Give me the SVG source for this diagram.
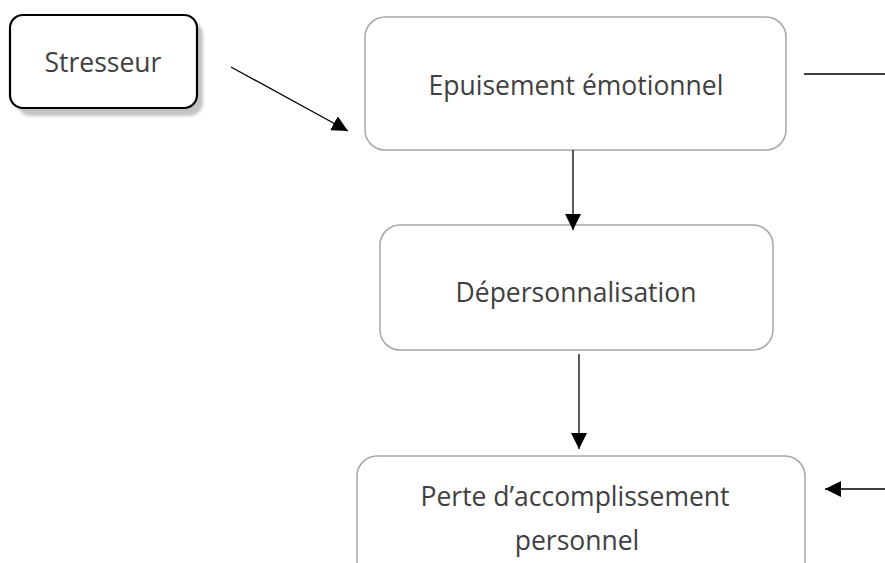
<svg xmlns="http://www.w3.org/2000/svg" width="885" height="563" viewBox="0 0 885 563">
<defs>
<marker id="ah" viewBox="0 0 10 10" refX="10" refY="5" markerWidth="16" markerHeight="16" markerUnits="userSpaceOnUse" orient="auto">
<path d="M0,0 L10,5 L0,10 z" fill="#000"/>
</marker>
<filter id="sh" x="-10%" y="-10%" width="130%" height="140%">
<feGaussianBlur stdDeviation="1.5"/>
</filter>
</defs>
<style>
.box{fill:#fff;stroke:#a6a6a6;stroke-width:1.5}
.t{font-family:"Open Sans","Liberation Sans",sans-serif;font-size:26.5px;fill:#404040;text-anchor:middle}
.c{stroke:#000;stroke-width:1.3;fill:none}
</style>
<rect width="885" height="563" fill="#fff"/>
<g id="stresseur">
<rect x="17" y="21" width="186" height="95" rx="14" fill="#aaa" filter="url(#sh)" opacity="0.7"/>
<rect x="10" y="15" width="187" height="93" rx="13" fill="#fff" stroke="#000" stroke-width="2.2"/>
<text class="t" x="103" y="72">Stresseur</text>
</g>
<g id="epuisement">
<rect class="box" x="365" y="17" width="421" height="133" rx="20"/>
<text class="t" x="576" y="95">Epuisement émotionnel</text>
</g>
<g id="depersonnalisation">
<rect class="box" x="380" y="225" width="393" height="125" rx="20"/>
<text class="t" x="576" y="302">Dépersonnalisation</text>
</g>
<g id="perte">
<rect class="box" x="357" y="456" width="448" height="130" rx="20"/>
<text class="t" x="575" y="506">Perte d’accomplissement</text>
<text class="t" x="577" y="550">personnel</text>
</g>
<g id="connectors">
<line class="c" x1="231" y1="67" x2="348" y2="131" marker-end="url(#ah)"/>
<line class="c" x1="804" y1="74" x2="885" y2="74"/>
<line class="c" x1="573" y1="150" x2="573" y2="230" marker-end="url(#ah)"/>
<line class="c" x1="579" y1="354" x2="579" y2="449" marker-end="url(#ah)"/>
<line class="c" x1="885" y1="489" x2="825" y2="489" marker-end="url(#ah)"/>
</g>
</svg>
